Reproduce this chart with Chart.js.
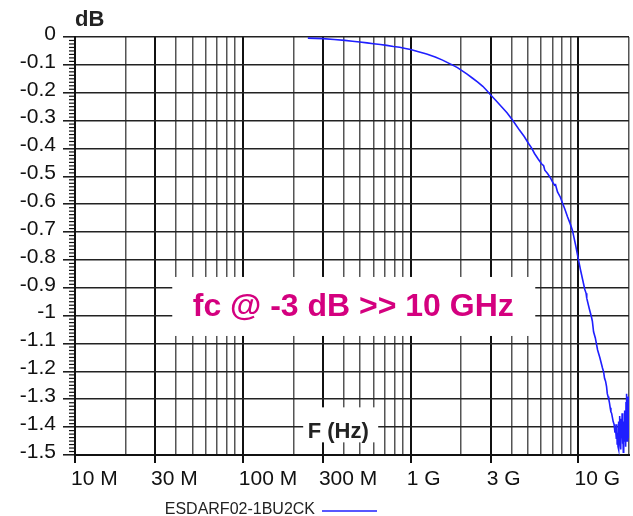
<!DOCTYPE html>
<html>
<head>
<meta charset="utf-8">
<script src="https://cdn.jsdelivr.net/npm/chart.js@4.4.1/dist/chart.umd.min.js"></script>
<style>
html,body{margin:0;padding:0;background:#fff;}
#wrap{width:633px;height:516px;position:relative;}
</style>
</head>
<body>
<div id="wrap"><canvas id="bodeplot"></canvas></div>
<script>
// insertion loss curve
var seriesName = "ESDARF02-1BU2CK";
var freqGHz = [0.244,0.30,0.35,0.405,0.45,0.497,0.55,0.60,0.66,0.72,0.79,0.86,0.93,1.0,1.1,1.245,1.4,1.55,1.66,1.78,1.9,2.01,2.17,2.34,2.5,2.69,2.85,2.99,3.2,3.48,3.75,3.99,4.2,4.46,4.75,5.04,5.25,5.47,5.75,6.02,6.2,6.3,6.54,6.8,7.0,7.2,7.3,7.5,7.8,8.03,8.3,8.6,8.9,9.2,9.6,10.0,10.3,10.6,10.9,11.1,11.2,11.6,11.95,12.1,12.3,12.6,13.0,13.4,13.9,14.1,14.3,14.5,14.7,14.85,15.0,15.15,15.3,15.45,15.6,15.75,15.9,16.1,16.3,16.5,16.6,16.8,16.9,17.0,17.1,17.2,17.3,17.4,17.5,17.6,17.7,17.8,17.9,18.0,18.1,18.2,18.3,18.4,18.5,18.6,18.7,18.8,18.9,19.0,19.1,19.2,19.3,19.4,19.5,19.6,19.7,19.8,19.9,20.0];
var gainDb = [-0.004,-0.006,-0.009,-0.012,-0.015,-0.018,-0.021,-0.024,-0.027,-0.030,-0.034,-0.037,-0.041,-0.045,-0.052,-0.061,-0.072,-0.083,-0.092,-0.101,-0.110,-0.120,-0.133,-0.148,-0.161,-0.177,-0.193,-0.207,-0.226,-0.250,-0.272,-0.293,-0.312,-0.335,-0.357,-0.382,-0.398,-0.418,-0.438,-0.455,-0.462,-0.478,-0.490,-0.505,-0.520,-0.532,-0.530,-0.556,-0.575,-0.596,-0.618,-0.645,-0.668,-0.693,-0.745,-0.800,-0.838,-0.872,-0.905,-0.920,-0.937,-0.975,-1.005,-1.020,-1.058,-1.080,-1.123,-1.150,-1.188,-1.200,-1.225,-1.235,-1.255,-1.280,-1.290,-1.300,-1.313,-1.330,-1.345,-1.350,-1.363,-1.38,-1.39,-1.42,-1.40,-1.44,-1.39,-1.46,-1.42,-1.47,-1.38,-1.48,-1.41,-1.36,-1.45,-1.39,-1.48,-1.37,-1.44,-1.35,-1.46,-1.40,-1.49,-1.38,-1.45,-1.34,-1.43,-1.37,-1.47,-1.31,-1.42,-1.28,-1.45,-1.33,-1.40,-1.29,-1.44,-1.34];

var xTickValues = [1e7,3e7,1e8,3e8,1e9,3e9,1e10];
var xTickLabels = ["10 M","30 M","100 M","300 M","1 G","3 G","10 G"];
var yTickValues = [0,-0.1,-0.2,-0.3,-0.4,-0.5,-0.6,-0.7,-0.8,-0.9,-1,-1.1,-1.2,-1.3,-1.4,-1.5];
var yTickLabels = ["0","-0.1","-0.2","-0.3","-0.4","-0.5","-0.6","-0.7","-0.8","-0.9","-1","-1.1","-1.2","-1.3","-1.4","-1.5"];

var noteText = "fc @ -3 dB >> 10 GHz";
var axisXTitle = "F (Hz)";
var axisYTitle = "dB";

var FONT = "'Liberation Sans', Arial, sans-serif";
var BLUE = "#1f1fff";

// grid lines at 1..9 x 10^n
var gridFreqs = [];
for (var e = 7; e <= 9; e++) {
    for (var m = 1; m <= 9; m++) gridFreqs.push(m * Math.pow(10, e));
}
gridFreqs.push(1e10, 2e10);

function labelIndex(v) {
    for (var i = 0; i < xTickValues.length; i++) {
        if (Math.abs(v - xTickValues[i]) / xTickValues[i] < 1e-6) return i;
    }
    return -1;
}
function isLabelled(c) {
    return c.tick && labelIndex(c.tick.value) >= 0;
}

var extras = {
    id: "extras",
    beforeDatasetsDraw: function(chart) {
        var ctx = chart.ctx, area = chart.chartArea;
        var x = chart.scales.x, y = chart.scales.y;
        ctx.save();
        // minor ticks on the dB axis
        ctx.strokeStyle = "#111";
        ctx.lineWidth = 1.2;
        for (var i = 1; i < 120; i++) {
            if (i % 8 === 0) continue;
            var py = y.getPixelForValue(-i * 0.0125);
            ctx.beginPath();
            ctx.moveTo(area.left - 6, py);
            ctx.lineTo(area.left, py);
            ctx.stroke();
        }
        // note box
        var cx = x.getPixelForValue(4.55e8), cy = y.getPixelForValue(-0.967);
        ctx.fillStyle = "#fff";
        ctx.fillRect(cx - 181, cy - 29.5, 363, 59);
        ctx.fillStyle = "#d4007f";
        ctx.font = "bold 32px " + FONT;
        ctx.textAlign = "center";
        ctx.textBaseline = "middle";
        ctx.fillText(noteText, cx, cy + 1);
        // F (Hz) label
        var fx = x.getPixelForValue(3.7e8), fy = y.getPixelForValue(-1.39);
        ctx.fillStyle = "#fff";
        ctx.fillRect(fx - 35, fy - 17, 75, 35);
        ctx.fillStyle = "#222";
        ctx.font = "bold 22px " + FONT;
        ctx.fillText(axisXTitle, fx, fy + 8);
        // dB label
        ctx.textAlign = "left";
        ctx.fillText(axisYTitle, area.left, area.top - 17);
        ctx.restore();
    },
    afterDraw: function(chart) {
        var ctx = chart.ctx, area = chart.chartArea;
        var ly = chart.height - 6;
        ctx.save();
        ctx.fillStyle = "#222";
        ctx.font = "16px " + FONT;
        ctx.textAlign = "right";
        ctx.textBaseline = "middle";
        ctx.fillText(seriesName, area.left + 240, ly);
        ctx.strokeStyle = BLUE;
        ctx.lineWidth = 1.5;
        ctx.beginPath();
        ctx.moveTo(area.left + 247, ly + 1);
        ctx.lineTo(area.left + 302, ly + 1);
        ctx.stroke();
        ctx.restore();
    }
};

var points = freqGHz.map(function(f, i) { return {x: f * 1e9, y: gainDb[i]}; });

var chart = new Chart(document.getElementById("bodeplot"), {
    type: "line",
    data: {
        datasets: [{
            label: seriesName,
            data: points,
            borderColor: BLUE,
            backgroundColor: BLUE,
            borderWidth: 1.6,
            pointRadius: 0,
            tension: 0,
            fill: false
        }]
    },
    options: {
        responsive: true,
        maintainAspectRatio: false,
        animation: false,
        devicePixelRatio: 1,
        layout: {padding: {top: 37, right: 3, left: 0, bottom: 0}},
        plugins: {
            legend: {display: false},
            tooltip: {enabled: false}
        },
        scales: {
            x: {
                type: "logarithmic",
                min: 1e7,
                max: 2e10,
                afterBuildTicks: function(s) {
                    s.ticks = gridFreqs.map(function(v) { return {value: v}; });
                },
                afterFit: function(s) { s.height = 61; },
                ticks: {
                    autoSkip: false,
                    maxRotation: 0,
                    minRotation: 0,
                    align: "start",
                    labelOffset: -4,
                    padding: 4,
                    color: "#111",
                    font: {family: FONT, size: 21},
                    callback: function(v) {
                        var i = labelIndex(v);
                        return i >= 0 ? xTickLabels[i] : "";
                    }
                },
                grid: {
                    color: function(c) { return isLabelled(c) ? "#111" : "#555"; },
                    lineWidth: function(c) { return isLabelled(c) ? 2 : 1.5; },
                    drawTicks: true,
                    tickLength: 8,
                    tickWidth: 2,
                    tickColor: function(c) { return isLabelled(c) ? "#111" : "rgba(0,0,0,0)"; }
                },
                border: {color: "#111", width: 2}
            },
            y: {
                type: "linear",
                min: -1.5,
                max: 0,
                afterBuildTicks: function(s) {
                    s.ticks = yTickValues.map(function(v) { return {value: v}; });
                },
                afterFit: function(s) { s.width = 75; },
                ticks: {
                    autoSkip: false,
                    padding: 7,
                    labelOffset: -3,
                    color: "#111",
                    font: {family: FONT, size: 21},
                    callback: function(v, i) { return yTickLabels[i]; }
                },
                grid: {
                    color: "#222",
                    lineWidth: 1.6,
                    tickLength: 12,
                    tickWidth: 1.5,
                    tickColor: "#111"
                },
                border: {color: "#111", width: 2}
            }
        }
    },
    plugins: [extras]
});
</script>
</body>
</html>
